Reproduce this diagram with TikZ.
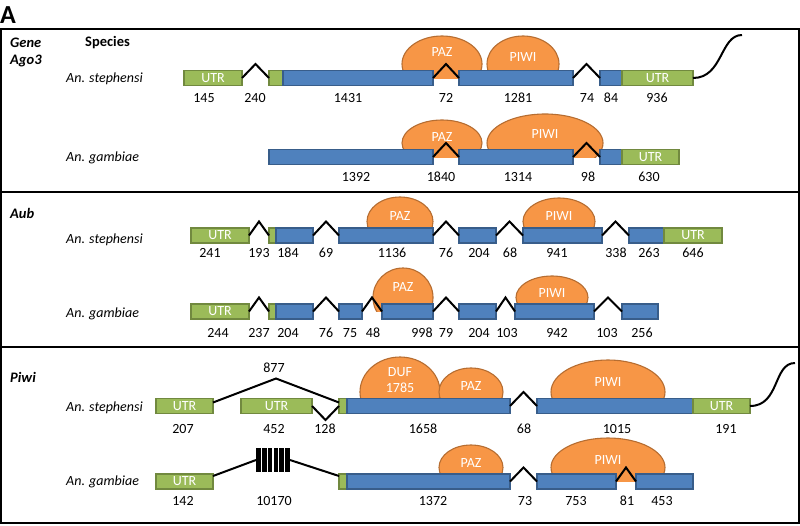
\documentclass[tikz,border=0pt]{standalone}
\usepackage{fontspec}
\setmainfont{Carlito}
\usepackage{tikz}
\usetikzlibrary{calc}
\definecolor{exonfill}{HTML}{4F81BD}
\definecolor{exonline}{HTML}{385D8A}
\definecolor{utrfill}{HTML}{9BBB59}
\definecolor{utrline}{HTML}{71893F}
\definecolor{domfill}{HTML}{F79646}
\definecolor{domline}{HTML}{B66D31}

\begin{document}
\begin{tikzpicture}[x=1pt,y=-1pt,
  txt/.style={font=\fontsize{14}{16}\selectfont, inner sep=0pt},
  exon/.style={draw=exonline, fill=exonfill, line width=1.1pt, minimum height=15pt, inner sep=0pt, outer sep=0pt, anchor=west, text=white, font=\fontsize{14}{16}\selectfont},
  utr/.style={exon, draw=utrline, fill=utrfill},
  dom/.style={draw=domline, fill=domfill, line width=1.1pt},
  domtxt/.style={txt, text=white},
  num/.style={txt},
  sp/.style={txt, anchor=west, font=\fontsize{14}{16}\selectfont\itshape},
  hd/.style={txt, anchor=west, font=\fontsize{14.5}{17}\selectfont\bfseries\itshape},
  intron/.style={draw=black, line width=2pt},
  panel/.style={draw=black, line width=2pt}]
  \useasboundingbox (0,0) rectangle (800,525);

  \node[anchor=west, inner sep=0pt, font=\fontsize{26}{29}\selectfont\bfseries] (lab) at (0,15) {A};

  % panels
  \draw[panel] (1,29) rectangle (799,192);
  \draw[panel] (1,192) rectangle (799,347);
  \draw[panel] (1,347) rectangle (799,523);

  \node[hd] (gene) at (10,43) {Gene};
  \node[hd] (ago3) at (10,61) {Ago3};
  \node[hd, font=\fontsize{14.5}{17}\selectfont\bfseries] (species) at (85,43) {Species};
  \node[hd] (aub) at (10,213) {Aub};
  \node[hd] (piwi) at (10,377) {Piwi};

  \node[sp] (s1) at (66,79) {An. stephensi};
  \node[sp] (s2) at (66,158) {An. gambiae};
  \node[sp] (s3) at (66,240) {An. stephensi};
  \node[sp] (s4) at (66,314) {An. gambiae};
  \node[sp] (s5) at (66,408) {An. stephensi};
  \node[sp] (s6) at (66,482) {An. gambiae};

  % domains
  \begin{scope}
    \clip (0,30) rectangle (800,78);
    \draw[dom] (442,64) ellipse [x radius=40pt, y radius=28pt];
    \draw[dom] (523,64) ellipse [x radius=36pt, y radius=28pt];
  \end{scope}
  \begin{scope}
    \clip (0,100) rectangle (800,157);
    \draw[dom] (442,143) ellipse [x radius=40pt, y radius=23pt];
    \draw[dom] (545,143) ellipse [x radius=58pt, y radius=29pt];
  \end{scope}
  \begin{scope}
    \clip (0,194) rectangle (800,235.5);
    \draw[dom] (400,221.5) ellipse [x radius=33pt, y radius=24.5pt];
    \draw[dom] (559,221.5) ellipse [x radius=36pt, y radius=23.5pt];
  \end{scope}
  \begin{scope}
    \clip (0,260) rectangle (800,311.5);
    \draw[dom] (403,297.5) ellipse [x radius=30pt, y radius=29.5pt];
    \draw[dom] (552,297.5) ellipse [x radius=36pt, y radius=21.5pt];
  \end{scope}
  \begin{scope}
    \clip (0,349) rectangle (800,406);
    \draw[dom] (400,392) ellipse [x radius=40pt, y radius=35pt];
    \draw[dom] (471,392) ellipse [x radius=32pt, y radius=24pt];
    \draw[dom] (608,392) ellipse [x radius=57pt, y radius=32pt];
  \end{scope}
  \begin{scope}
    \clip (0,430) rectangle (800,481.5);
    \draw[dom] (471,467.5) ellipse [x radius=32pt, y radius=22.5pt];
    \draw[dom] (608,467.5) ellipse [x radius=57pt, y radius=29.5pt];
  \end{scope}

  % Ago3
  \node[utr, minimum width=58pt] (u1a) at (184,78) {UTR};
  \node[utr, minimum width=14pt] (g1) at (269,78) {};
  \node[exon, minimum width=150pt] (e1a) at (283,78) {};
  \node[exon, minimum width=114pt] (e1b) at (459,78) {};
  \node[exon, minimum width=22pt] (e1c) at (600,78) {};
  \node[utr, minimum width=71pt] (u1b) at (622,78) {UTR};

  \node[exon, minimum width=164pt] (e2a) at (269,157) {};
  \node[exon, minimum width=114pt] (e2b) at (459,157) {};
  \node[exon, minimum width=22pt] (e2c) at (600,157) {};
  \node[utr, minimum width=57pt] (u2) at (622,157) {UTR};

  % Aub
  \node[utr, minimum width=58pt] (u3a) at (191,235.5) {UTR};
  \node[utr, minimum width=7pt] (g3) at (269,235.5) {};
  \node[exon, minimum width=37pt] (e3a) at (276,235.5) {};
  \node[exon, minimum width=94pt] (e3b) at (339,235.5) {};
  \node[exon, minimum width=37pt] (e3c) at (459,235.5) {};
  \node[exon, minimum width=79pt] (e3d) at (523,235.5) {};
  \node[exon, minimum width=35pt] (e3e) at (629,235.5) {};
  \node[utr, minimum width=58pt] (u3b) at (664,235.5) {UTR};

  \node[utr, minimum width=58pt] (u4) at (191,311.5) {UTR};
  \node[utr, minimum width=7pt] (g4) at (269,311.5) {};
  \node[exon, minimum width=37pt] (e4a) at (276,311.5) {};
  \node[exon, minimum width=23pt] (e4b) at (339,311.5) {};
  \node[exon, minimum width=51pt] (e4c) at (382,311.5) {};
  \node[exon, minimum width=37pt] (e4d) at (459,311.5) {};
  \node[exon, minimum width=79pt] (e4e) at (515,311.5) {};
  \node[exon, minimum width=36pt] (e4f) at (622,311.5) {};

  % Piwi
  \node[utr, minimum width=57pt] (u5a) at (156,406) {UTR};
  \node[utr, minimum width=71pt] (u5b) at (241,406) {UTR};
  \node[utr, minimum width=8pt] (g5) at (339,406) {};
  \node[exon, minimum width=163pt] (e5a) at (347,406) {};
  \node[exon, minimum width=156pt] (e5b) at (537,406) {};
  \node[utr, minimum width=57pt] (u5c) at (693,406) {UTR};

  \node[utr, minimum width=57pt] (u6) at (156,481.5) {UTR};
  \node[utr, minimum width=8pt] (g6) at (339,481.5) {};
  \node[exon, minimum width=163pt] (e6a) at (347,481.5) {};
  \node[exon, minimum width=79pt] (e6b) at (537,481.5) {};
  \node[exon, minimum width=57pt] (e6c) at (636,481.5) {};
  \node[fill=black, minimum width=34pt, minimum height=24pt, inner sep=0pt, outer sep=0pt] (rep) at (273,460) {};
  \foreach \k in {1,...,5}
    \draw[white, line width=1.2pt] ($(rep.north west)+(\k*34/6,0)$) -- ($(rep.south west)+(\k*34/6,0)$);

  % introns
  \foreach \a/\b in {u1a/g1, e1a/e1b, e1b/e1c, e2a/e2b, e2b/e2c,
                     u3a/g3, e3a/e3b, e3b/e3c, e3c/e3d, e3d/e3e,
                     u4/g4, e4a/e4b, e4b/e4c, e4c/e4d, e4d/e4e, e4e/e4f,
                     e5a/e5b, e6a/e6b, e6b/e6c}
    \draw[intron] (\a.east) -- ($(\a.east)!.5!(\b.west)+(0,-14)$) -- (\b.west);
  \draw[intron] ([yshift=-4pt]u5a.north east) -- ($([yshift=-4pt]u5a.north east)!.5!([yshift=-4pt]g5.north west)+(0,-24)$) -- ([yshift=-4pt]g5.north west);
  \draw[intron] (u5b.east) -- ($(u5b.east)!.5!(g5.west)+(0,14)$) -- (g5.west);
  \draw[intron] ([yshift=-2pt]u6.north east) -- (rep.west);
  \draw[intron] (rep.east) -- ([yshift=-2pt]g6.north west);

  % tails
  \coordinate (t1) at (742,35);
  \coordinate (t5) at (795,363);
  \draw[intron] (u1b.east) .. controls +(30,0) and +(-22,0) .. (t1);
  \draw[intron] (u5c.east) .. controls +(30,0) and +(-22,0) .. (t5);

  % domain names
  \node[domtxt] (paz1) at (442,52) {PAZ};
  \node[domtxt] (piwi1) at (523,57) {PIWI};
  \node[domtxt] (paz2) at (442,137) {PAZ};
  \node[domtxt] (piwi2) at (545,134) {PIWI};
  \node[domtxt] (paz3) at (400,216) {PAZ};
  \node[domtxt] (piwi3) at (559,216) {PIWI};
  \node[domtxt] (paz4) at (403,287) {PAZ};
  \node[domtxt] (piwi4) at (552,293) {PIWI};
  \node[domtxt, align=center] (duf5) at (400,380) {DUF\\1785};
  \node[domtxt] (paz5) at (471,386) {PAZ};
  \node[domtxt] (piwi5) at (608,382) {PIWI};
  \node[domtxt] (paz6) at (471,463) {PAZ};
  \node[domtxt] (piwi6) at (608,460) {PIWI};

  % lengths
  \foreach \x/\t [count=\i] in {204/145, 255/240, 348/1431, 446/72, 518/1281, 587/74, 611/84, 657/936}
    \node[num] (n1-\i) at (\x,98) {\t};
  \foreach \x/\t [count=\i] in {356/1392, 441/1840, 518/1314, 588/98, 649/630}
    \node[num] (n2-\i) at (\x,177) {\t};
  \foreach \x/\t [count=\i] in {210/241, 259/193, 288/184, 326/69, 392/1136, 446/76, 479/204, 510/68, 557/941, 616/338, 649/263, 693/646}
    \node[num] (n3-\i) at (\x,253) {\t};
  \foreach \x/\t [count=\i] in {218/244, 259/237, 288/204, 326/76, 350/75, 373/48, 422/998, 446/79, 479/204, 507/103, 557/942, 607/103, 642/256}
    \node[num] (n4-\i) at (\x,333) {\t};
  \foreach \x/\t [count=\i] in {183/207, 274/452, 325/128, 423/1658, 524/68, 617/1015, 726/191}
    \node[num] (n5-\i) at (\x,429) {\t};
  \node[num] (n5-top) at (274,368) {877};
  \foreach \x/\t [count=\i] in {183/142, 274/10170, 433/1372, 525/73, 576/753, 627/81, 662/453}
    \node[num] (n6-\i) at (\x,501) {\t};
\end{tikzpicture}
\end{document}
